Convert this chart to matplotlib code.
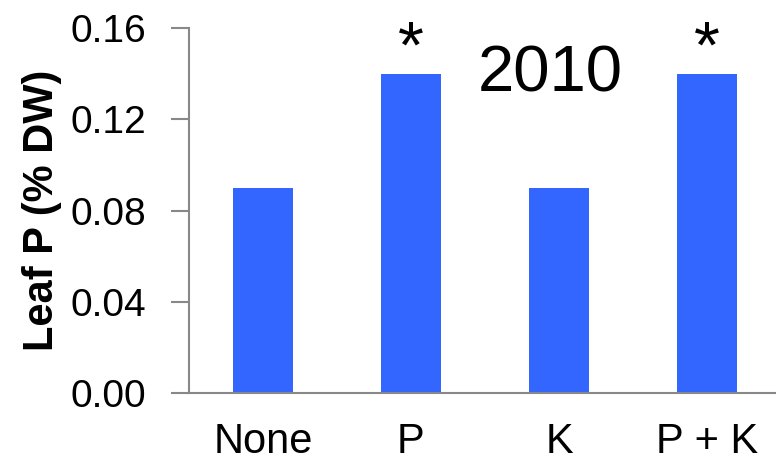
import matplotlib.pyplot as plt

plt.rcParams['font.family'] = ['Liberation Sans', 'DejaVu Sans']

treatments = ['None', 'P', 'K', 'P + K']
leaf_p = [0.09, 0.14, 0.09, 0.14]
signif = ['', '*', '', '*']
yticks = [0.00, 0.04, 0.08, 0.12, 0.16]

fig = plt.figure(figsize=(7.76, 4.65), dpi=100)
ax = fig.add_axes([189/776, 1 - 393/465, 592/776, 365/465])

x = range(len(treatments))
ax.bar(x, leaf_p, width=0.405, color='#3366FF')
for i, s in enumerate(signif):
    if s:
        ax.text(i, leaf_p[i] + 0.0028, s, ha='center', va='baseline', fontsize=48)

ax.text(1.94, 0.1395, '2010', ha='center', va='center', fontsize=47)

ax.set_xlim(-0.5, 3.5)
ax.set_ylim(0, 0.16)
ax.set_yticks(yticks)
ax.set_yticklabels([f'{v:.2f}' for v in yticks])
ax.set_xticks(list(x))
ax.set_xticklabels(treatments)
ax.tick_params(axis='y', labelsize=28, length=13, width=1.5, color='#888888', pad=18)
ax.tick_params(axis='x', labelsize=30, length=0, pad=21)
ax.set_ylabel('Leaf P (% DW)', fontsize=30, fontweight='bold', labelpad=6)

for side in ['top', 'right']:
    ax.spines[side].set_visible(False)
for side in ['left', 'bottom']:
    ax.spines[side].set_color('#888888')
    ax.spines[side].set_linewidth(1.5)

fig.savefig('out.png', dpi=100)
